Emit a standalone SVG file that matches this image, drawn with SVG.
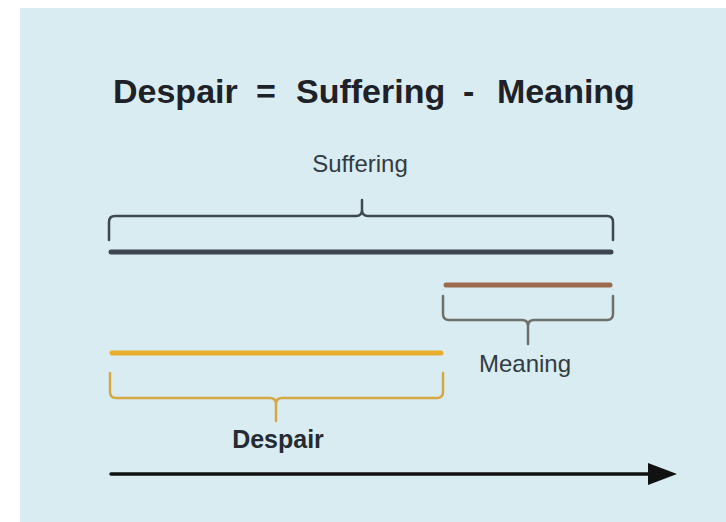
<svg xmlns="http://www.w3.org/2000/svg" width="726" height="522" viewBox="0 0 726 522">
  <style>
    .title { font-family: "Liberation Sans", Arial, sans-serif; font-weight: bold; font-size: 34px; fill: #1e2228; }
    .lbl { font-family: "Liberation Sans", Arial, sans-serif; font-size: 24px; fill: #333a42; text-anchor: middle; }
    .lblb { font-family: "Liberation Sans", Arial, sans-serif; font-size: 25px; font-weight: bold; fill: #262b31; text-anchor: middle; }
    .brace { fill: none; stroke-width: 2.5; stroke-linecap: round; stroke-linejoin: round; }
    .bar { stroke-width: 5; stroke-linecap: round; }
  </style>
  <defs>
    <marker id="arrowhead" markerWidth="8" markerHeight="6" refX="7" refY="3" orient="auto" markerUnits="strokeWidth">
      <path d="M0,0 L8,3 L0,6 Z" fill="#111111"/>
    </marker>
  </defs>
  <rect x="0" y="0" width="726" height="522" fill="#ffffff"/>
  <rect x="20" y="8" width="706" height="514" fill="#d9ecf2"/>

  <g id="title">
    <text class="title" y="103"><tspan x="113">Despair</tspan><tspan x="256">=</tspan><tspan x="296">Suffering</tspan><tspan x="463">-</tspan><tspan x="497">Meaning</tspan></text>
  </g>

  <g id="suffering">
    <text class="lbl" x="360" y="172">Suffering</text>
    <path class="brace" stroke="#3f4852" d="M109,240 V222 Q109,216 115,216 H356 Q362,216 362,210 V200 V210 Q362,216 368,216 H607 Q613,216 613,222 V240"/>
    <line class="bar" x1="111" y1="252" x2="611" y2="252" stroke="#3d4650"/>
  </g>

  <g id="meaning">
    <line class="bar" x1="446" y1="285" x2="610" y2="285" stroke="#9a6a4c"/>
    <path class="brace" stroke="#6f6f6a" d="M443,296 V314 Q443,320 449,320 H522 Q528,320 528,326 V344 V326 Q528,320 534,320 H607 Q613,320 613,314 V296"/>
    <text class="lbl" x="525" y="372">Meaning</text>
  </g>

  <g id="despair">
    <line class="bar" x1="112" y1="353" x2="441" y2="353" stroke="#e8ae2c"/>
    <path class="brace" stroke="#d6a843" d="M110,373 V392 Q110,398 116,398 H270 Q276,398 276,404 V421 V404 Q276,398 282,398 H437 Q443,398 443,392 V373"/>
    <text class="lblb" x="278" y="448">Despair</text>
  </g>

  <g id="connectors">
    <line x1="111" y1="474" x2="650" y2="474" stroke="#111111" stroke-width="3.5" stroke-linecap="round"/>
    <path d="M648,463 L677,474 L648,485 Z" fill="#111111"/>
  </g>
</svg>
